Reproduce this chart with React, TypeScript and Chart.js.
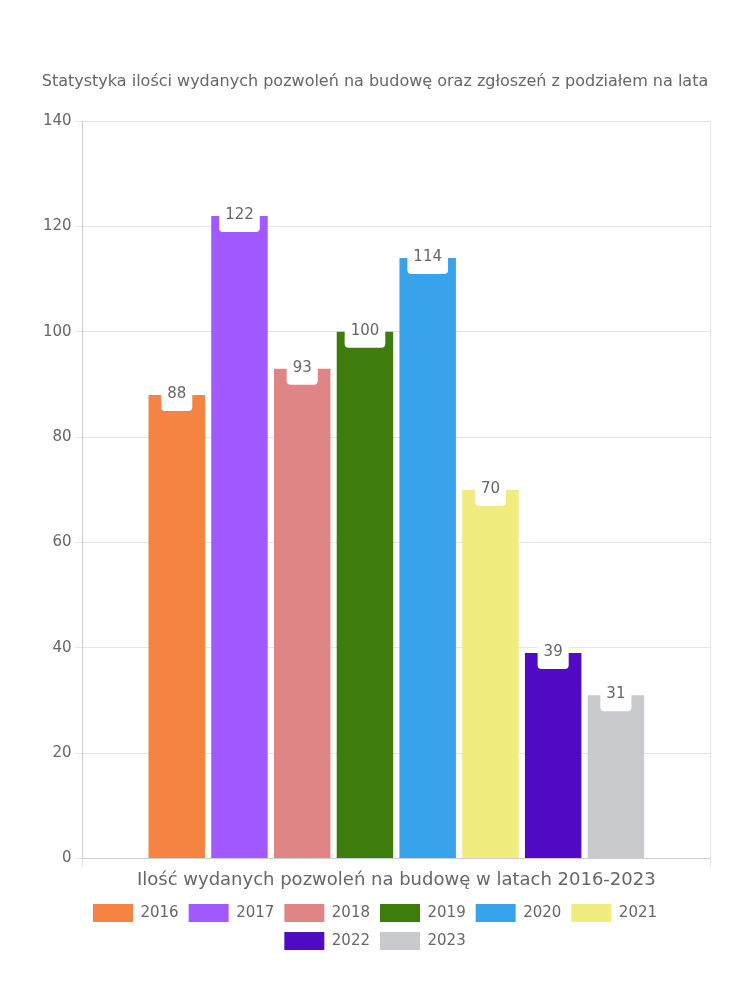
import React, { useEffect, useRef } from "react";
import { Chart, registerables } from "chart.js";

Chart.register(...registerables);

const years = ["2016", "2017", "2018", "2019", "2020", "2021", "2022", "2023"];
const values = [88, 122, 93, 100, 114, 70, 39, 31];
const colors = ["#F58442", "#A259FF", "#E08585", "#3E7C0B", "#38A3EA", "#F0EC7E", "#510BC4", "#C9CACE"];
const category = ["Ilość wydanych pozwoleń na budowę w latach 2016-2023"];
const titleText = "Statystyka ilości wydanych pozwoleń na budowę oraz zgłoszeń z podziałem na lata";

const FONT = "'DejaVu Sans', sans-serif";

const labelPlugin = {
  id: "boxLabels",
  afterDatasetsDraw(chart: any) {
    const ctx = chart.ctx;
    ctx.save();
    ctx.font = `15px ${FONT}`;
    ctx.textAlign = "center";
    ctx.textBaseline = "middle";
    chart.data.datasets.forEach((ds: any, i: number) => {
      const meta = chart.getDatasetMeta(i);
      meta.data.forEach((bar: any, j: number) => {
        const text = String(ds.data[j]);
        const w = ctx.measureText(text).width + 12;
        const x = bar.x;
        const y = bar.y;
        const top = y - 10;
        const h = 26;
        ctx.fillStyle = "#ffffff";
        ctx.beginPath();
        if (ctx.roundRect) ctx.roundRect(x - w / 2, top, w, h, 4);
        else ctx.rect(x - w / 2, top, w, h);
        ctx.fill();
        ctx.fillStyle = "#666666";
        ctx.fillText(text, x, y - 1);
      });
    });
    ctx.restore();
  },
};

export default function App() {
  const ref = useRef<HTMLCanvasElement>(null);
  useEffect(() => {
    document.body.style.margin = "0";
    const chart = new Chart(ref.current!, {
      type: "bar",
      data: {
        labels: category,
        datasets: years.map((y, i) => ({
          label: y,
          data: [values[i]],
          backgroundColor: colors[i],
          borderWidth: 0,
        })),
      },
      options: {
        animation: false,
        responsive: false,
        layout: { padding: { top: 62, bottom: 40, left: 40, right: 40 } },
        plugins: {
          title: {
            display: true,
            text: titleText,
            color: "#666",
            font: { family: FONT, size: 16, weight: "normal" },
            padding: { top: 10, bottom: 30 },
          },
          legend: {
            position: "bottom",
            labels: {
              color: "#666",
              font: { family: FONT, size: 15 },
              boxWidth: 40,
              boxHeight: 18,
              padding: 10,
            },
          },
          tooltip: { enabled: false },
        },
        scales: {
          x: {
            ticks: { color: "#666", font: { family: FONT, size: 18 } },
            grid: { color: "rgba(0,0,0,0.1)" },
          },
          y: {
            min: 0,
            max: 140,
            ticks: { stepSize: 20, color: "#666", font: { family: FONT, size: 15 } },
            grid: { color: "rgba(0,0,0,0.1)" },
          },
        },
      },
      plugins: [labelPlugin],
    });
    return () => chart.destroy();
  }, []);
  return (
    <div style={{ width: 750, height: 1000 }}>
      <canvas ref={ref} width={750} height={1000} />
    </div>
  );
}
